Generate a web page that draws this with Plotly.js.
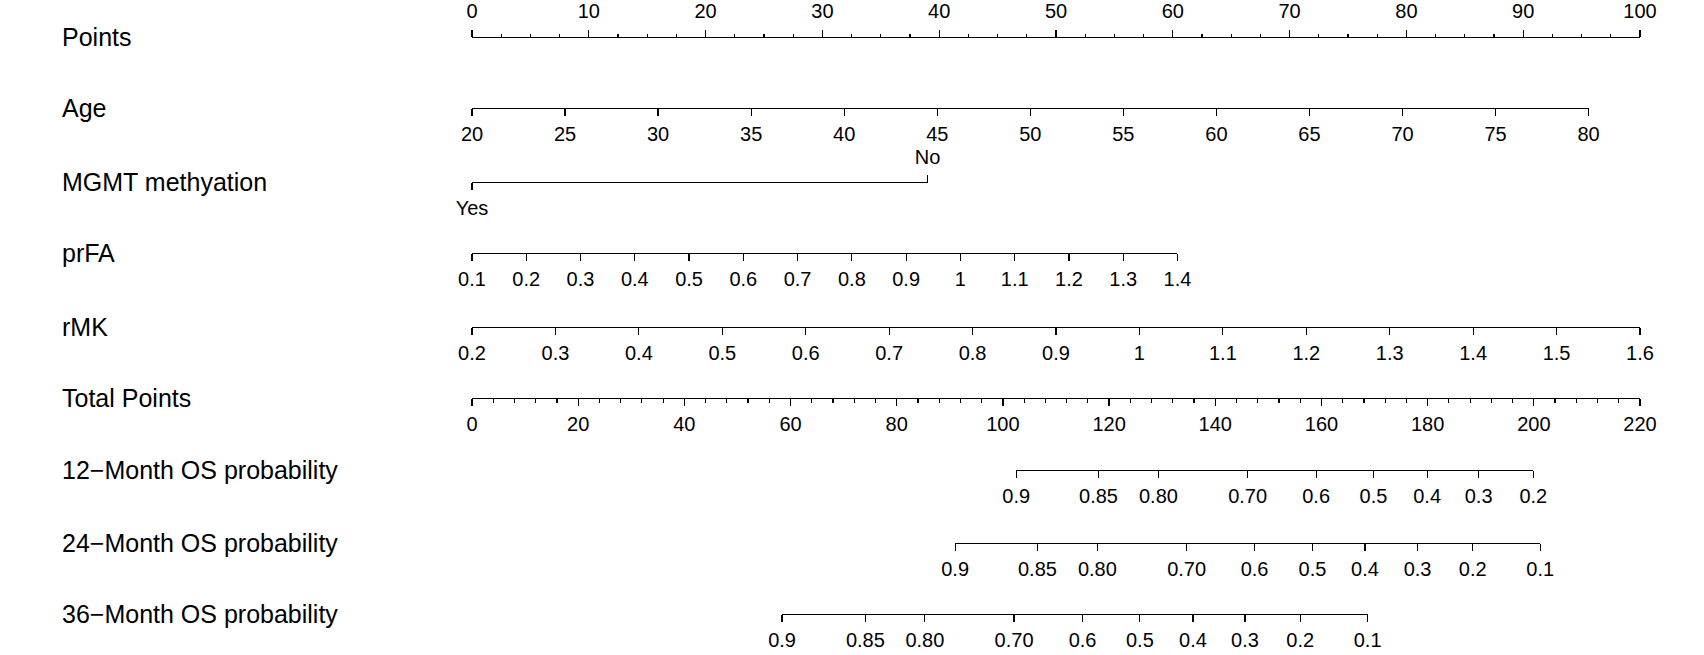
<!DOCTYPE html>
<html><head><meta charset="utf-8">
<script src="https://cdn.plot.ly/plotly-3.0.1.min.js"></script>
<style>html,body{margin:0;padding:0;background:#fff;} #chart{width:1704px;height:655px;}</style>
</head><body><div id="chart"></div>
<script>
// ---------------- data ----------------
const rowLabels = ["Points", "Age", "MGMT methyation", "prFA", "rMK", "Total Points",
  "12\u2212Month OS probability", "24\u2212Month OS probability", "36\u2212Month OS probability"];

const pointsTicks = [0, 10, 20, 30, 40, 50, 60, 70, 80, 90, 100];
const pointsMinorStep = 2.5;

const ageTicks = [20, 25, 30, 35, 40, 45, 50, 55, 60, 65, 70, 75, 80];
const agePointsRange = [0, 95.6];           // points at age 20 and age 80

const mgmtLevels = ["Yes", "No"];
const mgmtPoints = [0, 39.0];

const prfaTicks = [0.1, 0.2, 0.3, 0.4, 0.5, 0.6, 0.7, 0.8, 0.9, 1, 1.1, 1.2, 1.3, 1.4];
const prfaTickLabels = ["0.1","0.2","0.3","0.4","0.5","0.6","0.7","0.8","0.9","1","1.1","1.2","1.3","1.4"];
const prfaPointsRange = [0, 60.4];          // points at prFA 0.1 and 1.4

const rmkTicks = [0.2, 0.3, 0.4, 0.5, 0.6, 0.7, 0.8, 0.9, 1, 1.1, 1.2, 1.3, 1.4, 1.5, 1.6];
const rmkTickLabels = ["0.2","0.3","0.4","0.5","0.6","0.7","0.8","0.9","1","1.1","1.2","1.3","1.4","1.5","1.6"];
const rmkPointsRange = [0, 100];            // points at rMK 0.2 and 1.6

const totalTicks = [0, 20, 40, 60, 80, 100, 120, 140, 160, 180, 200, 220];
const totalMinorStep = 4;
const totalMax = 220;

const os12Labels = ["0.9","0.85","0.80","0.70","0.6","0.5","0.4","0.3","0.2"];
const os12TotalPoints = [102.5, 118.0, 129.3, 146.1, 159.0, 169.8, 179.9, 189.6, 199.9];

const os24Labels = ["0.9","0.85","0.80","0.70","0.6","0.5","0.4","0.3","0.2","0.1"];
const os24TotalPoints = [91.0, 106.5, 117.8, 134.6, 147.4, 158.3, 168.2, 178.1, 188.5, 201.2];

const os36Labels = ["0.9","0.85","0.80","0.70","0.6","0.5","0.4","0.3","0.2","0.1"];
const os36TotalPoints = [58.4, 74.1, 85.3, 102.1, 115.0, 125.8, 135.8, 145.6, 156.0, 168.7];

// ---------------- layout geometry ----------------
const W = 1704, H = 655;
const ptsLeftPx = 472, ptsRightPx = 1640;
const rowPx = [37, 108, 182, 253, 327, 398, 470, 543, 614];
const labelLeftPx = 60;
const FONT = 'Liberation Sans, Arial, Helvetica, sans-serif';

function dPts(p) { return (ptsLeftPx + p * (ptsRightPx - ptsLeftPx) / 100) / W; }
function dTot(t) { return (ptsLeftPx + t * (ptsRightPx - ptsLeftPx) / totalMax) / W; }
function rowPos(i) { return 1 - rowPx[i] / H; }
function steps(a, b, s) { const o = []; for (let v = a; v <= b + 1e-9; v += s) o.push(+v.toFixed(6)); return o; }

const baseAxis = {
  showgrid: false, zeroline: false, showline: true, linecolor: '#000', linewidth: 1.2,
  ticks: 'outside', ticklen: 7, tickwidth: 1.2, tickcolor: '#000', tickangle: 0,
  tickfont: { family: FONT, size: 20, color: '#000' },
  anchor: 'free', fixedrange: true, tickmode: 'array', ticklabelstandoff: 1
};

const layout = {
  width: W, height: H, margin: { l: 0, r: 0, t: 0, b: 0 },
  paper_bgcolor: '#fff', plot_bgcolor: 'rgba(0,0,0,0)', showlegend: false,
  yaxis: { domain: [0, 1], range: [0, 1], visible: false, fixedrange: true },
  annotations: []
};
const traces = [];
let axN = 0;
function addAxis(row, domain, range, tickvals, ticktext, side, extra) {
  axN += 1;
  const name = axN === 1 ? 'xaxis' : 'xaxis' + axN;
  layout[name] = Object.assign({}, baseAxis, {
    domain: domain, range: range, tickvals: tickvals, ticktext: ticktext,
    side: side, position: rowPos(row)
  }, extra || {});
  traces.push({
    type: 'scatter', mode: 'markers', x: tickvals, y: tickvals.map(() => 0.5),
    xaxis: axN === 1 ? 'x' : 'x' + axN, yaxis: 'y',
    marker: { opacity: 0, size: 1 }, hoverinfo: 'skip', showlegend: false
  });
}
const minorStyle = { ticks: 'outside', ticklen: 3.5, tickwidth: 1.2, tickcolor: '#000', showgrid: false, tickmode: 'array' };

// Points
addAxis(0, [dPts(0), dPts(100)], [0, 100], pointsTicks, pointsTicks.map(String), 'top',
  { ticklabelstandoff: 4, minor: Object.assign({}, minorStyle, { tickvals: steps(0, 100, pointsMinorStep) }) });
// Age
addAxis(1, [dPts(agePointsRange[0]), dPts(agePointsRange[1])], [ageTicks[0], ageTicks[ageTicks.length - 1]],
  ageTicks, ageTicks.map(String), 'bottom');
// MGMT (Yes below, No above)
addAxis(2, [dPts(mgmtPoints[0]), dPts(mgmtPoints[1])], [mgmtPoints[0], mgmtPoints[1]],
  [mgmtPoints[0]], [mgmtLevels[0]], 'bottom');
addAxis(2, [dPts(mgmtPoints[0]), dPts(mgmtPoints[1])], [mgmtPoints[0], mgmtPoints[1]],
  [mgmtPoints[1]], [mgmtLevels[1]], 'top', { showline: false, ticklabelstandoff: 3 });
// prFA
addAxis(3, [dPts(prfaPointsRange[0]), dPts(prfaPointsRange[1])], [prfaTicks[0], prfaTicks[prfaTicks.length - 1]],
  prfaTicks, prfaTickLabels, 'bottom');
// rMK
addAxis(4, [dPts(rmkPointsRange[0]), dPts(rmkPointsRange[1])], [rmkTicks[0], rmkTicks[rmkTicks.length - 1]],
  rmkTicks, rmkTickLabels, 'bottom');
// Total points
addAxis(5, [dTot(0), dTot(totalMax)], [0, totalMax], totalTicks, totalTicks.map(String), 'bottom',
  { minor: Object.assign({}, minorStyle, { tickvals: steps(0, totalMax, totalMinorStep) }) });
// Survival axes (positions in total points)
[[6, os12TotalPoints, os12Labels], [7, os24TotalPoints, os24Labels], [8, os36TotalPoints, os36Labels]].forEach(function (s) {
  const tp = s[1];
  addAxis(s[0], [dTot(tp[0]), dTot(tp[tp.length - 1])], [tp[0], tp[tp.length - 1]], tp, s[2], 'bottom');
});

// Row labels
rowLabels.forEach(function (t, i) {
  layout.annotations.push({
    text: t, xref: 'paper', yref: 'paper', x: labelLeftPx / W, y: rowPos(i),
    xanchor: 'left', yanchor: 'middle', showarrow: false,
    font: { family: FONT, size: 25, color: '#000' }
  });
});

Plotly.newPlot('chart', traces, layout, { staticPlot: true, displayModeBar: false });
</script>
</body></html>
